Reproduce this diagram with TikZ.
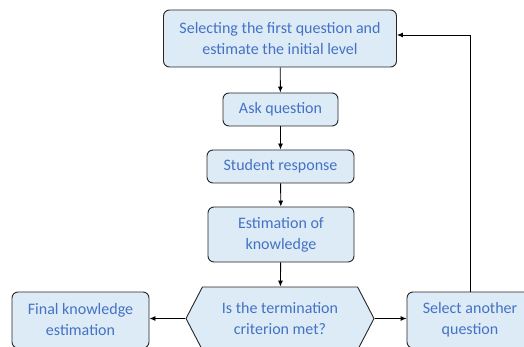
\documentclass[tikz,border=0pt]{standalone}
\usepackage{fontspec}
\setmainfont{Carlito}
\usetikzlibrary{positioning, shapes.symbols, arrows.meta}

\definecolor{boxfill}{HTML}{DDEBF7}
\definecolor{boxtext}{HTML}{4472C4}

\tikzset{
    stepbox/.style={draw=black!85, line width=0.9pt, fill=boxfill, rounded corners=6pt, text=boxtext,
        align=center, font=\fontsize{16}{21}\selectfont, inner sep=0pt},
    testbox/.style={draw=black!85, line width=0.9pt, fill=boxfill, text=boxtext, shape=signal,
        signal to=west and east, signal pointer angle=125, align=center,
        font=\fontsize{16}{21}\selectfont, inner sep=0pt},
    flow/.style={-{Latex[length=6pt,width=5pt]}, black, line width=0.9pt}
}

\begin{document}
\begin{tikzpicture}[x=1pt, y=-1pt]
    \clip (0,0) rectangle (524,347);
    \fill[white] (0,0) rectangle (524,347);

    \node[stepbox, minimum width=233pt, minimum height=57pt] (first) at (280, 38.5) {Selecting the first question and\\estimate the initial level};
    \node[stepbox, minimum width=115pt, minimum height=33pt] (ask) at (280.5, 109.5) {Ask question};
    \node[stepbox, minimum width=147pt, minimum height=33pt] (resp) at (280.5, 166.5) {Student response};
    \node[stepbox, minimum width=146pt, minimum height=55pt] (est) at (281, 234.5) {Estimation of\\knowledge};

    \node[testbox, minimum width=188pt, minimum height=63pt] (crit) at (280, 318.5) {Is the termination\\criterion met?};
    \node[stepbox, minimum width=137pt, minimum height=56pt] (final) at (80.5, 320) {Final knowledge\\estimation};
    \node[stepbox, minimum width=126pt, minimum height=56pt] (other) at (470, 320) {Select another\\question};

    % main flow
    \draw[flow] (first) -- (ask);
    \draw[flow] (ask) -- (resp);
    \draw[flow] (resp) -- (est);
    \draw[flow] (est) -- (crit);

    % outcomes
    \draw[flow] (crit.west) -- (final.east |- crit.west);
    \draw[flow] (crit.east) -- (other.west |- crit.east);
    \draw[flow] (other.north) |- ([yshift=3.5pt]first.east);
\end{tikzpicture}
\end{document}
